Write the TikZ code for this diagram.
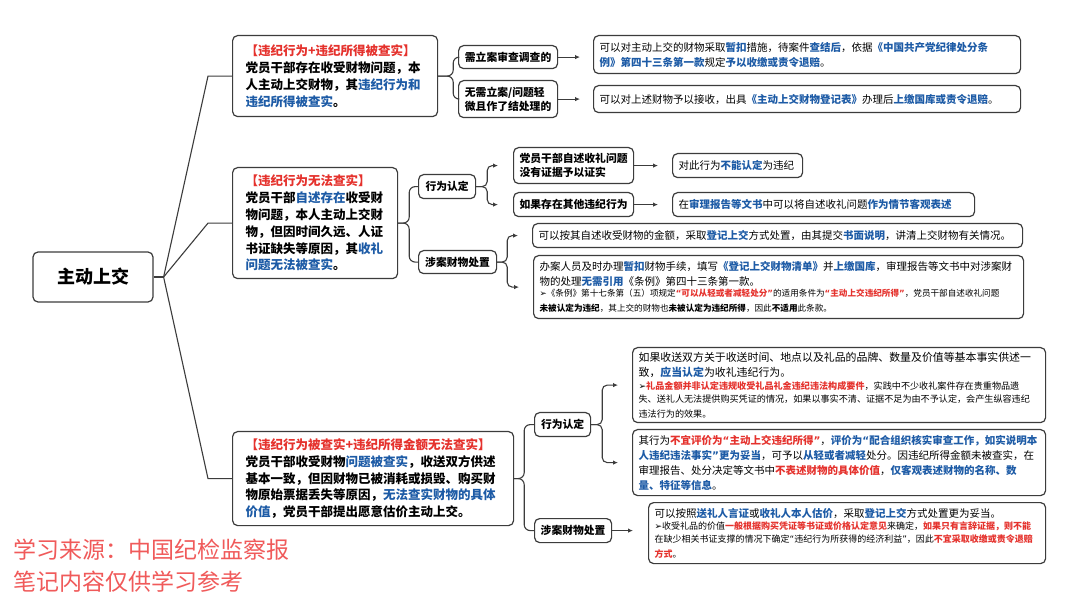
\documentclass[tikz,border=0pt]{standalone}
\usepackage{fontspec}
\setmainfont{Noto Sans CJK SC}
\newfontfamily\symf{DejaVu Sans}
\usetikzlibrary{arrows.meta,calc}
\definecolor{hred}{HTML}{E5322D}
\definecolor{hblue}{HTML}{1D5BA6}
\definecolor{bd}{HTML}{3C3C3C}
\definecolor{wmred}{HTML}{F05A5A}
\newcommand{\hlb}[1]{{\bfseries\color{hblue}#1}}
\newcommand{\hlr}[1]{{\bfseries\color{hred}#1}}
\newcommand{\hlk}[1]{{\bfseries #1}}
\newcommand{\bul}{{\symf ➢}}
\newcommand{\oq}{{\symf “}}
\newcommand{\cq}{{\symf ”}}
\newcommand{\fmain}{\fontsize{10.5}{15}\selectfont}
\newcommand{\fmainb}{\fontsize{10.9}{15}\selectfont}
\newcommand{\fsmall}{\fontsize{8.6}{11.5}\selectfont}
\newcommand{\fsmallb}{\fontsize{9.1}{13}\selectfont}
\newcommand{\fbr}{\fontsize{12.5}{16.8}\selectfont}
\newcommand{\fch}{\fontsize{10.8}{14}\selectfont}
\newcommand{\froot}{\fontsize{18}{22}\selectfont}
\begin{document}
\begin{tikzpicture}[x=1pt,y=-1pt,
  box/.style={draw=bd, line width=1.2pt, rounded corners=5pt, fill=white, anchor=north west, inner ysep=2pt},
  leaf/.style={box, inner xsep=6pt, align=left, font=\fmain},
  br/.style={box, inner xsep=13pt, align=left, font=\fbr\bfseries},
  ch/.style={box, inner xsep=3pt, align=center, font=\fch\bfseries},
  ln/.style={draw=bd, line width=1.1pt},
  arr/.style={ln, -{Latex[length=5pt,width=4.5pt]}},
]
\fill[white] (0,0) rectangle (1080,612);
\useasboundingbox (0,0) rectangle (1080,612);

% root
\node[box, anchor=center, minimum width=120pt, minimum height=50pt, font=\froot\bfseries] (root) at (93,277) {主动上交};

% branches
\node[br, text width=179pt, minimum height=81pt] (b1) at (232,35) {{\color{hred}【违纪行为+违纪所得被查实】}\\党员干部存在收受财物问题，本\\人主动上交财物，其{\color{hblue}违纪行为和}\\{\color{hblue}违纪所得被查实}。};
\node[br, text width=139pt, minimum height=111pt] (b2) at (232,167) {{\color{hred}【违纪行为无法查实】}\\党员干部{\color{hblue}自述存在}收受财\\物问题，本人主动上交财\\物，但因时间久远、人证\\书证缺失等原因，其{\color{hblue}收礼}\\{\color{hblue}问题无法被查实}。};
\node[br, text width=255pt, minimum height=94pt] (b3) at (232,431) {{\color{hred}【违纪行为被查实+违纪所得金额无法查实】}\\党员干部收受财物{\color{hblue}问题被查实}，收送双方供述\\基本一致，但因财物已被消耗或损毁、购买财\\物原始票据丢失等原因，{\color{hblue}无法查实财物的具体}\\{\color{hblue}价值}，党员干部提出愿意估价主动上交。};

% children
\node[ch, minimum width=99pt, minimum height=23pt] (c1a) at (458,45) {需立案审查调查的};
\node[ch, align=left, minimum width=99pt, minimum height=37pt] (c1b) at (458,80) {无需立案/问题轻\\微且作了结处理的};
\node[ch, minimum width=57pt, minimum height=24pt] (c2a) at (418,174) {行为认定};
\node[ch, minimum width=78pt, minimum height=23pt] (c2b) at (418,250) {涉案财物处置};
\node[ch, align=left, minimum width=120pt, minimum height=36pt] (d2a1) at (513,147) {党员干部自述收礼问题\\没有证据予以证实};
\node[ch, minimum width=120pt, minimum height=24pt] (d2a2) at (513,192) {如果存在其他违纪行为};
\node[ch, minimum width=56pt, minimum height=24pt] (c3a) at (534,412) {行为认定};
\node[ch, minimum width=77pt, minimum height=24pt] (c3b) at (534,518) {涉案财物处置};

% leaves
\node[leaf, text width=415pt, minimum height=38pt] (l1a) at (593,35) {可以对主动上交的财物采取\hlb{暂扣}措施，待案件\hlb{查结后}，依据\hlb{《中国共产党纪律处分条}\\\hlb{例》第四十三条第一款}规定\hlb{予以收缴或责令退赔}。};
\node[leaf, text width=415pt, minimum height=27pt] (l1b) at (593,85) {可以对上述财物予以接收，出具\hlb{《主动上交财物登记表》}办理后\hlb{上缴国库或责令退赔}。};
\node[leaf, text width=118pt, minimum height=24pt] (l2a1) at (672,153) {对此行为\hlb{不能认定}为违纪};
\node[leaf, text width=290pt, minimum height=24pt] (l2a2) at (672,192) {在\hlb{审理报告等文书}中可以将自述收礼问题\hlb{作为情节客观表述}};
\node[leaf, text width=478pt, minimum height=24pt] (l2b1) at (532,223) {可以按其自述收受财物的金额，采取\hlb{登记上交}方式处置，由其提交\hlb{书面说明}，讲清上交财物有关情况。};
\node[leaf, text width=478pt, minimum height=63pt] (l2b2) at (533,255) {办案人员及时办理\hlb{暂扣}财物手续，填写\hlb{《登记上交财物清单》}并\hlb{上缴国库}，审理报告等文书中对涉案财\\物的处理\hlb{无需引用}《条例》第四十三条第一款。\par\fsmall\bul{}《条例》第十七条第（五）项规定\hlr{\oq{}可以从轻或者减轻处分\cq{}}的适用条件为\hlr{\oq{}主动上交违纪所得\cq{}}，党员干部自述收礼问题\\\hlk{未被认定为违纪}，其上交的财物也\hlk{未被认定为违纪所得}，因此\hlk{不适用}此条款。};
\node[leaf, font=\fmainb, text width=401pt, minimum height=75pt] (l3a1) at (632,347) {如果收送双方关于收送时间、地点以及礼品的品牌、数量及价值等基本事实供述一\\致，\hlb{应当认定}为收礼违纪行为。\par\fsmallb\bul{}\hlr{礼品金额并非认定违规收受礼品礼金违纪违法构成要件}，实践中不少收礼案件存在贵重物品遗\\失、送礼人无法提供购买凭证的情况，如果以事实不清、证据不足为由不予认定，会产生纵容违纪\\违法行为的效果。};
\node[leaf, text width=401pt, minimum height=66pt] (l3a2) at (632,429) {其行为\hlr{不宜评价为\oq{}主动上交违纪所得\cq{}}，\hlb{评价为\oq{}配合组织核实审查工作，如实说明本}\\\hlb{人违纪违法事实\cq{}更为妥当}，可予以\hlb{从轻或者减轻}处分。因违纪所得金额未被查实，在\\审理报告、处分决定等文书中\hlr{不表述财物的具体价值}，\hlb{仅客观表述财物的名称、数}\\\hlb{量、特征等信息}。};
\node[leaf, text width=385pt, minimum height=61pt] (l3b) at (648,502) {可以按照\hlb{送礼人言证}或\hlb{收礼人本人估价}，采取\hlb{登记上交}方式处置更为妥当。\par\fontsize{9}{12.5}\selectfont\bul{}收受礼品的价值\hlr{一般根据购买凭证等书证或价格认定意见}来确定，\hlr{如果只有言辞证据，则不能}\\在缺少相关书证支撑的情况下确定\oq{}违纪行为所获得的经济利益\cq{}，因此\hlr{不宜采取收缴或责令退赔}\\\hlr{方式}。};

% watermark
\node[anchor=north west, inner sep=0pt, align=left, font=\fontsize{23}{32}\selectfont, text=wmred] (wm) at (13,539) {学习来源：中国纪检监察报\\笔记内容仅供学习参考};

% root connectors
\coordinate (j0) at ($(root.east)+(10,0)$);
\draw[ln] (root.east) -- (j0);
\draw[ln] (j0) -- ([xshift=-24pt]b1.west) -- (b1.west);
\draw[ln] (j0) -- ([xshift=-24pt]b2.west) -- (b2.west);
\draw[ln] (j0) -- ([xshift=-24pt]b3.west) -- (b3.west);

% branch forks
\draw[ln, rounded corners=6pt] (b1.east) -- ++(15,0) |- (c1a.west);
\draw[ln, rounded corners=6pt] (b1.east) -- ++(15,0) |- (c1b.west);
\draw[ln, rounded corners=6pt] (b2.east) -- ++(11,0) |- (c2a.west);
\draw[ln, rounded corners=6pt] (b2.east) -- ++(11,0) |- (c2b.west);
\draw[ln, rounded corners=6pt] (b3.east) -- ++(10,0) |- (c3a.west);
\draw[ln, rounded corners=6pt] (b3.east) -- ++(10,0) |- (c3b.west);

% arrows
\draw[arr, shorten >=13pt] (c1a.east) -- (c1a.east -| l1a.west);
\draw[arr, shorten >=13pt] (c1b.east) -- (c1b.east -| l1b.west);
\draw[arr, rounded corners=5pt, shorten >=15pt] (c2a.east) -- ++(11,0) |- (d2a1.west);
\draw[arr, rounded corners=5pt, shorten >=15pt] (c2a.east) -- ++(11,0) |- (d2a2.west);
\draw[arr, shorten >=14pt] (d2a1.east) -- (d2a1.east -| l2a1.west);
\draw[arr, shorten >=14pt] (d2a2.east) -- (d2a2.east -| l2a2.west);
\draw[arr, rounded corners=5pt, shorten >=14pt] (c2b.east) -- ++(10,0) |- (l2b1.west);
\draw[arr, rounded corners=5pt, shorten >=14pt] (c2b.east) -- ++(10,0) |- (l2b2.west);
\draw[arr, rounded corners=5pt, shorten >=14pt] (c3a.east) -- ++(11,0) |- (l3a1.west);
\draw[arr, rounded corners=5pt, shorten >=14pt] (c3a.east) -- ++(11,0) |- (l3a2.west);
\draw[arr, shorten >=15pt] (c3b.east) -- (c3b.east -| l3b.west);
\end{tikzpicture}
\end{document}
